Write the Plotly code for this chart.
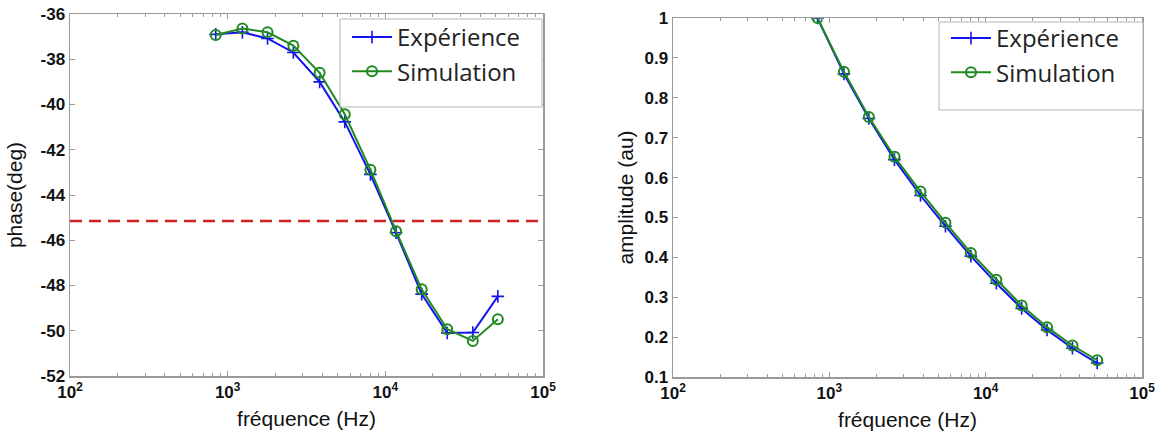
import plotly.graph_objects as go

# ---- data ----
freq = [840, 1240, 1790, 2610, 3830, 5530, 8040, 11700, 17000, 24700, 35900, 51700]
phase_exp = [-36.90, -36.81, -37.08, -37.70, -39.00, -40.77, -43.09, -45.67, -48.38, -50.10, -50.08, -48.48]
phase_sim = [-36.93, -36.64, -36.81, -37.40, -38.60, -40.43, -42.88, -45.60, -48.17, -49.93, -50.45, -49.49]
amp_exp = [1.0, 0.860, 0.748, 0.645, 0.555, 0.478, 0.403, 0.335, 0.272, 0.218, 0.172, 0.135]
amp_sim = [1.0, 0.865, 0.752, 0.652, 0.565, 0.487, 0.411, 0.344, 0.279, 0.225, 0.179, 0.142]
ref_phase = -45.15
x_ticks = [100, 1000, 10000, 100000]
x_ticktext = ["10<sup>2</sup>", "10<sup>3</sup>", "10<sup>4</sup>", "10<sup>5</sup>"]
phase_ticks = [-36, -38, -40, -42, -44, -46, -48, -50, -52]
amp_ticks = [1, 0.9, 0.8, 0.7, 0.6, 0.5, 0.4, 0.3, 0.2, 0.1]
amp_ticktext = ["1", "0.9", "0.8", "0.7", "0.6", "0.5", "0.4", "0.3", "0.2", "0.1"]

BLUE = "#1414f0"
GREEN = "#1f8a1f"
RED = "#d02020"
AXC = "#9a9a9a"
OFF = 0                      # body margin removed by post_script
W, H = 1157 - OFF, 439 - OFF


def px(x):
    return (x - OFF) / W


def py(y):
    return 1 - (y - OFF) / H


minor_vals = [m * 10 ** e for e in range(2, 5) for m in range(2, 10)]

fig = go.Figure()

cross = dict(symbol="cross-thin-open", size=9, line=dict(color=BLUE, width=1.6))
circ = dict(symbol="circle-open", size=10, line=dict(color=GREEN, width=2))

fig.add_trace(go.Scatter(x=freq, y=phase_exp, mode="lines+markers", name="Expérience",
                         line=dict(color=BLUE, width=2), marker=cross,
                         xaxis="x", yaxis="y", legend="legend"))
fig.add_trace(go.Scatter(x=freq, y=phase_sim, mode="lines+markers", name="Simulation",
                         line=dict(color=GREEN, width=2), marker=circ,
                         xaxis="x", yaxis="y", legend="legend"))
fig.add_trace(go.Scatter(x=[100, 100000], y=[ref_phase, ref_phase], mode="lines",
                         line=dict(color=RED, width=2.5, dash="12px,7px"),
                         showlegend=False, hoverinfo="skip", xaxis="x", yaxis="y"))

fig.add_trace(go.Scatter(x=freq, y=amp_exp, mode="lines+markers", name="Expérience",
                         line=dict(color=BLUE, width=2), marker=cross,
                         xaxis="x2", yaxis="y2", legend="legend2"))
fig.add_trace(go.Scatter(x=freq, y=amp_sim, mode="lines+markers", name="Simulation",
                         line=dict(color=GREEN, width=2), marker=circ,
                         xaxis="x2", yaxis="y2", legend="legend2"))

tickfont = dict(family="Liberation Sans, Arial, sans-serif", size=17, color="#111", weight="bold")
titlefont = dict(family="Liberation Sans, Arial, sans-serif", size=21, color="#111")


def xaxis(domain, anchor):
    return dict(type="log", domain=domain, anchor=anchor, range=[2, 5], automargin=False,
                ticklabeloverflow="allow",
                tickmode="array", tickvals=x_ticks, ticktext=x_ticktext,
                ticks="inside", ticklen=5, tickcolor=AXC, tickwidth=1,
                minor=dict(tickmode="array", tickvals=minor_vals, ticks="inside", ticklen=3,
                           tickcolor=AXC, tickwidth=1),
                showline=True, linecolor=AXC, linewidth=1.5, mirror="ticks",
                showgrid=False, zeroline=False, tickfont=tickfont,
                title=dict(text="fréquence (Hz)", font=titlefont, standoff=10))


def yaxis(domain, anchor, rng, tv, tt, title, standoff):
    return dict(domain=domain, anchor=anchor, range=rng, automargin=False,
                ticklabeloverflow="allow",
                tickmode="array", tickvals=tv, ticktext=tt,
                ticks="inside", ticklen=5, tickcolor=AXC, tickwidth=1,
                showline=True, linecolor=AXC, linewidth=1.5, mirror="ticks",
                showgrid=False, zeroline=False, tickfont=tickfont,
                title=dict(text=title, font=titlefont, standoff=standoff))


legfont = dict(family="Open Sans, Lato, sans-serif", size=24, color="#222")


def legbox(x0, x1, y0, y1):
    return dict(type="rect", xref="paper", yref="paper",
                x0=px(x0), x1=px(x1), y0=py(y1), y1=py(y0),
                fillcolor="white", line=dict(color="#b5b5b5", width=1), layer="above")


fig.update_layout(
    width=W, height=H,
    margin=dict(l=0, r=0, t=0, b=0, autoexpand=False),
    paper_bgcolor="white", plot_bgcolor="white",
    xaxis=xaxis([px(70), px(543)], "y"),
    yaxis=yaxis([py(376), py(14)], "x", [-52, -36], phase_ticks,
                [str(v) for v in phase_ticks], "phase(deg)", 12),
    xaxis2=xaxis([px(673), px(1142)], "y2"),
    yaxis2=yaxis([py(377), py(18)], "x2", [0.1, 1], amp_ticks, amp_ticktext,
                 "amplitude (au)", 5),
    shapes=[legbox(340, 542, 19, 107), legbox(939, 1143, 22, 110)],
    legend=dict(x=px(347), y=py(15), xanchor="left", yanchor="top",
                bgcolor="rgba(0,0,0,0)", borderwidth=0,
                font=legfont, tracegroupgap=0, itemwidth=40),
    legend2=dict(x=px(946), y=py(16), xanchor="left", yanchor="top",
                 bgcolor="rgba(0,0,0,0)", borderwidth=0,
                 font=legfont, tracegroupgap=0, itemwidth=40),
    showlegend=True,
    hovermode=False,
)

fig.write_html("out.html",
               config={"displayModeBar": False, "staticPlot": True},
               post_script="document.body.style.margin='0px';document.body.style.overflow='hidden';")
